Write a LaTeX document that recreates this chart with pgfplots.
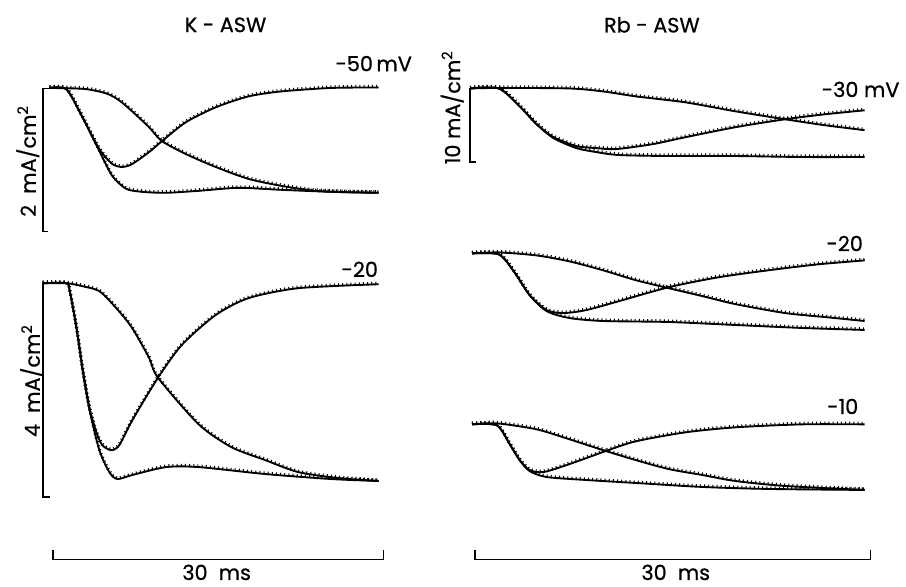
\documentclass[border=0pt]{standalone}
\usepackage{pgfplots}
\pgfplotsset{compat=1.18}
\usepackage{fontspec}
\setmainfont{Poppins}[FakeBold=0.7]

% fitted line plus the scattered measured points riding on it
\pgfplotsset{
  fit/.style={black, line width=0.95pt, smooth, tension=0.45, line join=round, no marks},
  pts/.style={black, line width=1.6pt, smooth, tension=0.45, no marks,
              dash pattern=on 0.5pt off 1.6pt, yshift=0.5pt},
  bar/.style={black, line width=0.9pt, no marks, sharp plot},
}
\newcommand{\trace}[1]{%
  \addplot[fit] coordinates {#1};
  \addplot[pts] coordinates {#1};
}

\begin{document}
\begin{tikzpicture}
\begin{axis}[
  scale only axis,
  width=16cm, height=10.314cm,
  xmin=0, xmax=906, ymin=0, ymax=584,
  y dir=reverse,
  hide axis,
  clip=false,
]
\path (axis cs:0,0) rectangle (axis cs:906,584);

%%%%% K - ASW, -50 mV
\addplot[bar] coordinates {(50,89)(43,89)(43,233)(48,233)};
\trace{(50,88.5)(85,89.5)(107,94)(120,101)(133,112)(150,128)(163,142)(187,155)(217,168)(250,180)(283,187)(317,192)(350,193.5)(381,194)}
\trace{(50,88.5)(67,90)(83,118)(100,150)(113,165)(123,168)(133,165)(150,153)(163,142)(187,123)(217,108)(250,97)(283,92)(333,88.5)(381,88)}
\trace{(50,88.5)(67,90)(83,118)(100,152)(113,177)(127,190)(143,193)(167,194)(200,192)(240,189)(283,191)(333,193)(381,194)}

%%%%% K - ASW, -20 mV
\addplot[bar] coordinates {(43,285)(43,500)(50,500)};
\trace{(43,285)(67,285)(83,288)(100,293)(117,310)(133,330)(150,360)(159,380)(200,427)(233,450)(267,463)(300,475)(340,481)(381,484)}
\trace{(43,285)(67,285)(70,292)(77,330)(83,370)(90,410)(97,435)(103,448)(112,453)(120,448)(133,423)(159,380)(183,347)(217,317)(250,300)(300,290)(381,286)}
\trace{(43,285)(67,285)(70,292)(77,330)(83,372)(90,412)(100,453)(110,475)(118,482)(133,478)(167,470)(200,470)(267,477)(333,482)(381,484)}

%%%%% Rb - ASW, -30 mV
\addplot[bar] coordinates {(479,89)(473,89)(473,163)(479,163)};
\trace{(473,89)(502,88.5)(573,89)(607,92)(640,97)(690,103)(740,112)(790,120)(830,126)(870,131)}
\trace{(473,89)(502,89)(523,107)(540,125)(557,138)(580,147)(600,149)(620,150)(657,145)(690,138)(740,128)(790,120)(830,115)(870,111)}
\trace{(473,89)(502,89)(523,107)(540,125)(557,139)(580,149)(600,153)(623,156)(673,157)(740,157)(807,158)(870,158)}

%%%%% Rb - ASW, -20 mV
\trace{(475,255)(502,254)(540,257)(573,263)(607,272)(640,282)(673,290)(707,298)(740,306)(790,315)(830,319)(870,323)}
\trace{(475,255)(502,256)(517,273)(533,297)(550,312)(567,315)(590,312)(623,303)(673,289)(723,279)(773,272)(823,266)(870,262)}
\trace{(475,255)(502,256)(517,273)(533,297)(550,313)(573,320)(607,323)(673,324)(740,327)(807,330)(870,332)}

%%%%% Rb - ASW, -10 mV
\trace{(475,427)(500,426)(540,432)(573,442)(607,453)(640,463)(673,472)(707,478)(740,484)(790,489)(870,493)}
\trace{(475,427)(500,428)(513,447)(523,463)(533,473)(547,475)(573,467)(612,453)(640,444)(690,435)(740,430)(807,427)(870,427)}
\trace{(475,427)(500,428)(513,447)(523,463)(533,474)(550,480)(590,483)(640,486)(707,490)(773,492)(870,493)}

%%%%% time bars
\addplot[bar] coordinates {(53,553)(53,563)(386,563)(386,553)};
\addplot[bar] coordinates {(478,553)(478,563)(876,563)(876,553)};

%%%%% text
\node[font=\fontsize{10.5}{12}\selectfont] at (axis cs:227,25) {K - ASW};
\node[font=\fontsize{10.5}{12}\selectfont] at (axis cs:656,25) {Rb - ASW};
\node[font=\fontsize{10.5}{12}\selectfont] at (axis cs:376,64) {-50\,mV};
\node[font=\fontsize{10.5}{12}\selectfont] at (axis cs:866,90) {-30 mV};
\node[font=\fontsize{10.5}{12}\selectfont] at (axis cs:362,271) {-20};
\node[font=\fontsize{10.5}{12}\selectfont] at (axis cs:850,245) {-20};
\node[font=\fontsize{10.5}{12}\selectfont] at (axis cs:848,409) {-10};
\node[font=\fontsize{10.5}{12}\selectfont, rotate=90] at (axis cs:28,162) {2\ \ mA/cm\textsuperscript{2}};
\node[font=\fontsize{10.5}{12}\selectfont, rotate=90] at (axis cs:32,383) {4\ \ mA/cm\textsuperscript{2}};
\node[font=\fontsize{10.5}{12}\selectfont, rotate=90] at (axis cs:455,108) {10 mA/cm\textsuperscript{2}};
\node[font=\fontsize{10.5}{12}\selectfont] at (axis cs:218,576) {30\ \ ms};
\node[font=\fontsize{10.5}{12}\selectfont] at (axis cs:680,576) {30\ \ ms};
\end{axis}
\end{tikzpicture}
\end{document}
